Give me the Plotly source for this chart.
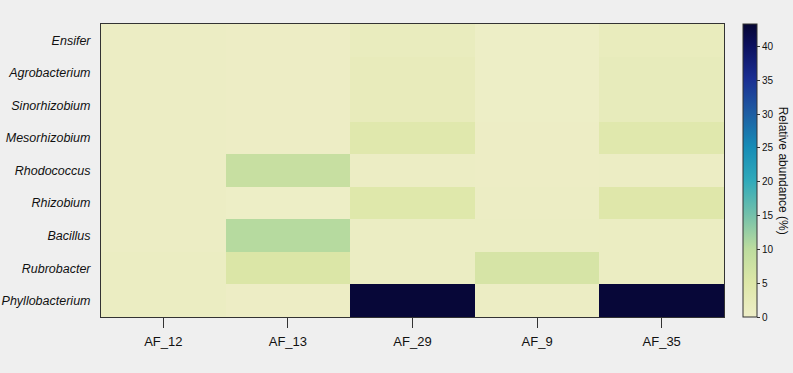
import plotly.graph_objects as go

samples = ["AF_12", "AF_13", "AF_29", "AF_9", "AF_35"]
genera = ["Ensifer", "Agrobacterium", "Sinorhizobium", "Mesorhizobium", "Rhodococcus",
          "Rhizobium", "Bacillus", "Rubrobacter", "Phyllobacterium"]

# relative abundance (%) per genus, one list per sample
af_12 = [0.6, 0.6, 0.6, 0.6, 0.6, 0.6, 0.6, 1.0, 0.9]
af_13 = [0.4, 0.4, 0.4, 0.4, 8.5, 0.3, 10.5, 5.5, 0.4]
af_29 = [1.5, 2.0, 2.0, 4.3, 0.6, 4.6, 0.8, 0.8, 43.0]
af_9 = [0.3, 0.3, 0.3, 0.4, 0.4, 0.7, 0.8, 6.2, 0.6]
af_35 = [1.7, 2.1, 2.1, 4.3, 0.7, 4.7, 0.9, 0.9, 43.0]

z = [[af_12[i], af_13[i], af_29[i], af_9[i], af_35[i]] for i in range(len(genera))]

colorscale = [
    [0.0, "rgb(238,238,200)"],
    [0.116, "rgb(222,231,168)"],
    [0.233, "rgb(188,220,158)"],
    [0.349, "rgb(115,192,170)"],
    [0.465, "rgb(48,170,186)"],
    [0.581, "rgb(22,140,182)"],
    [0.698, "rgb(30,92,162)"],
    [0.814, "rgb(26,46,146)"],
    [0.93, "rgb(12,16,92)"],
    [1.0, "rgb(6,6,52)"],
]

font_family = "Liberation Sans, Arial"

fig = go.Figure(go.Heatmap(
    z=z, x=samples, y=genera, zmin=0, zmax=43.3,
    colorscale=colorscale,
    colorbar=dict(
        thickness=14, len=1.0, lenmode="fraction", y=0.5, yanchor="middle",
        x=1.0297, xanchor="left", xpad=0, ypad=0,
        outlinewidth=1, outlinecolor="#333",
        tickvals=[0, 5, 10, 15, 20, 25, 30, 35, 40],
        ticks="outside", ticklen=3, tickcolor="#333",
        tickfont=dict(family=font_family, size=10, color="#111"),
    ),
))

fig.add_annotation(
    text="Relative abundance (%)", textangle=90, xref="paper", yref="paper",
    x=1.096, y=0.5, xanchor="center", yanchor="middle", showarrow=False,
    font=dict(family=font_family, size=12, color="#111"),
)

fig.update_layout(
    width=793, height=373,
    margin=dict(l=101, r=69, t=24, b=56, autoexpand=False),
    paper_bgcolor="#efefef", plot_bgcolor="#efefef",
    xaxis=dict(showline=True, linecolor="#333", linewidth=1, mirror=True,
               automargin=False,
               ticks="outside", ticklen=10, tickcolor="#333", ticklabelstandoff=2,
               tickfont=dict(family=font_family, size=13, color="#111")),
    yaxis=dict(showline=True, linecolor="#333", linewidth=1, mirror=True,
               automargin=False,
               autorange="reversed", ticks="", ticklabelstandoff=7,
               tickfont=dict(family=font_family, size=12.5, color="#111")),
)
fig.update_yaxes(tickvals=genera, ticktext=[f"<i>{g}</i>" for g in genera])

fig.write_html("out.html")
